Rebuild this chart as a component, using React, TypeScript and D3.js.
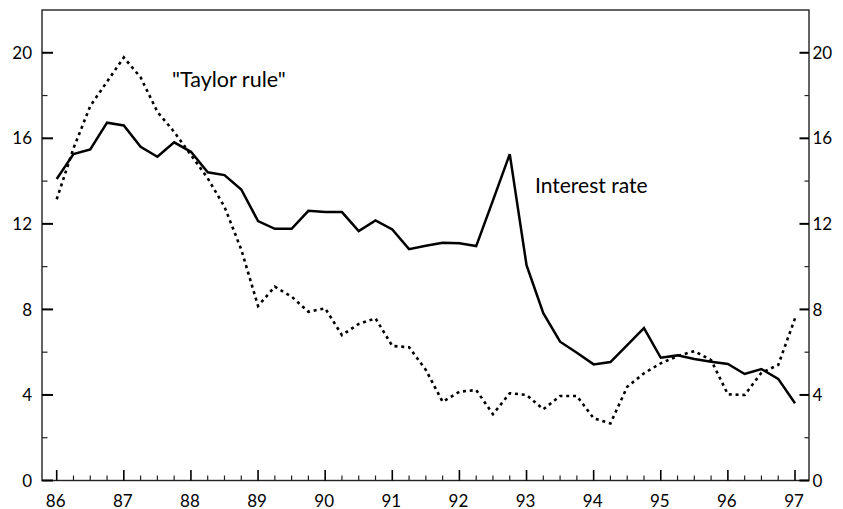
import React from "react";
import * as d3 from "d3";

// Quarterly observations, 1986 Q1 through 1997 Q1 (year + fraction)
const periods: number[] = [
  86.0, 86.25, 86.5, 86.75, 87.0, 87.25, 87.5, 87.75, 88.0, 88.25, 88.5, 88.75,
  89.0, 89.25, 89.5, 89.75, 90.0, 90.25, 90.5, 90.75, 91.0, 91.25, 91.5, 91.75,
  92.0, 92.25, 92.5, 92.75, 93.0, 93.25, 93.5, 93.75, 94.0, 94.25, 94.5, 94.75,
  95.0, 95.25, 95.5, 95.75, 96.0, 96.25, 96.5, 96.75, 97.0,
];

// Short-term interest rate, per cent
const interestRate: number[] = [
  14.1, 15.26, 15.48, 16.73, 16.6, 15.6, 15.14, 15.81, 15.37, 14.41, 14.28, 13.61,
  12.13, 11.77, 11.77, 12.61, 12.55, 12.55, 11.66, 12.16, 11.74, 10.82, 10.98, 11.12,
  11.09, 10.96, 13.1, 15.26, 10.07, 7.82, 6.49, 5.97, 5.43, 5.54, 6.33, 7.13,
  5.74, 5.85, 5.68, 5.55, 5.45, 4.98, 5.21, 4.75, 3.61,
];

// Rate implied by the "Taylor rule", per cent
const taylorRule: number[] = [
  13.15, 15.53, 17.51, 18.65, 19.78, 18.85, 17.24, 16.3, 15.22, 14.13, 12.8, 10.8,
  8.16, 9.06, 8.6, 7.89, 8.05, 6.8, 7.32, 7.58, 6.29, 6.23, 5.17, 3.68,
  4.15, 4.23, 3.1, 4.08, 4.0, 3.33, 3.95, 3.95, 2.91, 2.67, 4.38, 5.01,
  5.48, 5.82, 6.05, 5.63, 4.03, 4.0, 5.04, 5.4, 7.58,
];

const yearTicks: number[] = [86, 87, 88, 89, 90, 91, 92, 93, 94, 95, 96, 97];
const quarterTicks: number[] = periods.filter((p) => p % 1 !== 0);
const majorYTicks: number[] = [0, 4, 8, 12, 16, 20];
const minorYTicks: number[] = [2, 6, 10, 14, 18];

const W = 843;
const H = 509;
const frameLeft = 42;
const frameRight = 809;
const frameTop = 10;
const frameBottom = 480.5;

const FONT = "Lato, 'Open Sans', sans-serif";

export default function App() {
  const x = d3.scaleLinear().domain([86, 97]).range([56.7, 795]);
  const y = d3.scaleLinear().domain([0, 22]).range([frameBottom, frameTop]);

  const line = d3
    .line<[number, number]>()
    .x((d) => x(d[0]))
    .y((d) => y(d[1]));

  const rateData: [number, number][] = periods.map((p, i) => [p, interestRate[i]]);
  const taylorData: [number, number][] = periods.map((p, i) => [p, taylorRule[i]]);

  const axisColor = "#222";

  return (
    <div style={{ position: "absolute", left: 0, top: 0 }}>
      <svg width={W} height={H} style={{ display: "block", background: "#fff" }}>
        {/* frame */}
        <rect
          x={frameLeft}
          y={frameTop}
          width={frameRight - frameLeft}
          height={frameBottom - frameTop}
          fill="none"
          stroke={axisColor}
          strokeWidth={1.4}
        />

        {/* left & right y ticks */}
        {majorYTicks.map((t) => (
          <g key={"my" + t}>
            <line x1={frameLeft} x2={frameLeft + 11} y1={y(t)} y2={y(t)} stroke="#000" strokeWidth={2} />
            <line x1={frameRight - 9.5} x2={frameRight} y1={y(t)} y2={y(t)} stroke="#000" strokeWidth={2} />
            <text
              x={32}
              y={y(t)}
              dy="0.36em"
              textAnchor="end"
              fontFamily={FONT}
              fontSize={17}
              fill="#000"
            >
              {t}
            </text>
            <text
              x={812.5}
              y={y(t)}
              dy="0.36em"
              textAnchor="start"
              fontFamily={FONT}
              fontSize={17}
              fill="#000"
            >
              {t}
            </text>
          </g>
        ))}
        {minorYTicks.map((t) => (
          <g key={"ny" + t}>
            <line x1={frameLeft} x2={frameLeft + 5.5} y1={y(t)} y2={y(t)} stroke={axisColor} strokeWidth={1.2} />
            <line x1={frameRight - 4.5} x2={frameRight} y1={y(t)} y2={y(t)} stroke={axisColor} strokeWidth={1.2} />
          </g>
        ))}

        {/* x ticks */}
        {yearTicks.map((t) => (
          <g key={"yx" + t}>
            <line x1={x(t)} x2={x(t)} y1={frameBottom} y2={frameBottom - 10.5} stroke="#000" strokeWidth={1.6} />
            <text
              x={x(t) - 1}
              y={506.5}
              textAnchor="middle"
              fontFamily={FONT}
              fontSize={17}
              fill="#000"
            >
              {t}
            </text>
          </g>
        ))}
        {quarterTicks.map((t) => (
          <line
            key={"qx" + t}
            x1={x(t)}
            x2={x(t)}
            y1={frameBottom}
            y2={frameBottom - 5}
            stroke={axisColor}
            strokeWidth={1.2}
          />
        ))}

        {/* series */}
        <path
          d={line(taylorData) ?? ""}
          fill="none"
          stroke="#000"
          strokeWidth={2.6}
          strokeDasharray="3 3.8"
        />
        <path
          d={line(rateData) ?? ""}
          fill="none"
          stroke="#000"
          strokeWidth={2.5}
          strokeLinejoin="miter"
        />

        {/* series labels */}
        <text x={172} y={87} fontFamily={FONT} fontSize={21.5} fill="#000">
          "Taylor rule"
        </text>
        <text x={535} y={193} fontFamily={FONT} fontSize={21} fill="#000">
          Interest rate
        </text>
      </svg>
    </div>
  );
}
